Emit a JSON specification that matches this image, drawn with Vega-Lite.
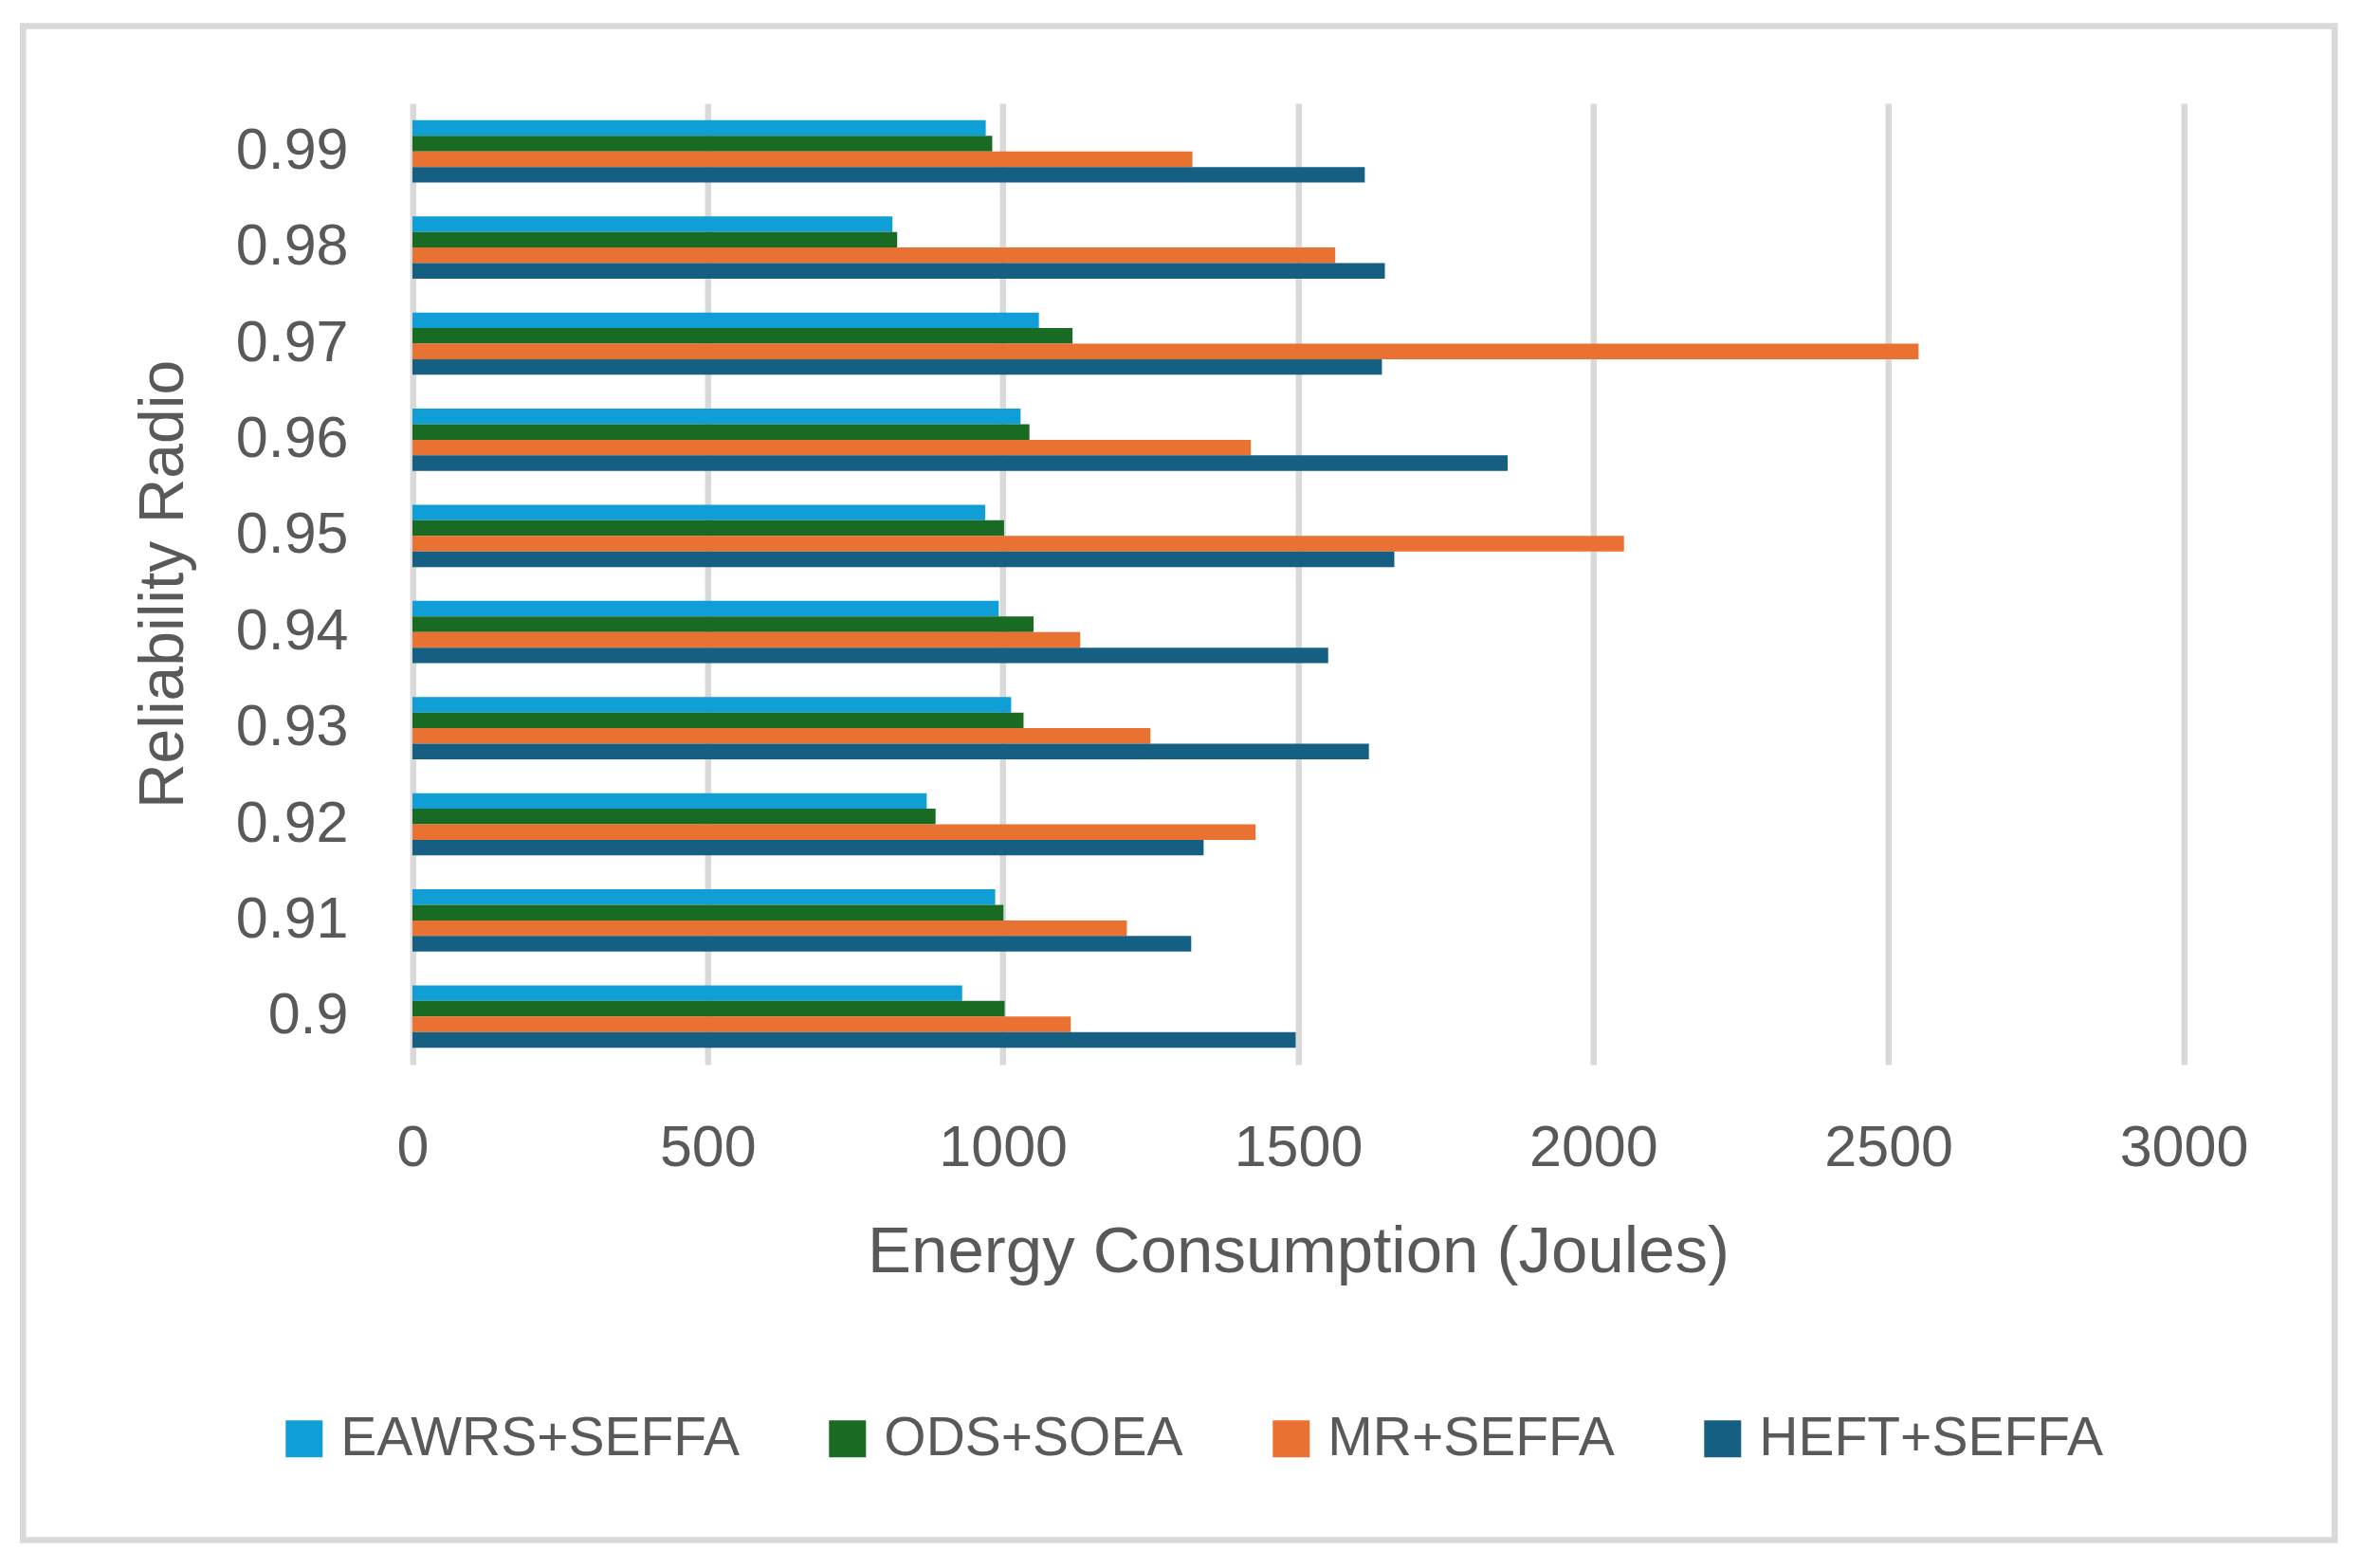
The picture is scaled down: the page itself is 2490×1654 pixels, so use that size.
{
  "$schema": "https://vega.github.io/schema/vega-lite/v6.json",
  "autosize": {"type": "none"},
  "width": 2438,
  "height": 1597,
  "padding": {"left": 24.3, "top": 27.5, "right": 27.7, "bottom": 29.5},
  "background": "white",
  "config": {
    "view": {"stroke": "#d9d9d9", "strokeWidth": 6.5},
    "font": "Liberation Sans"
  },
  "data": {
    "values": [
      {"ratio": "0.99", "method": "EAWRS+SEFFA", "value": 971},
      {"ratio": "0.99", "method": "ODS+SOEA", "value": 982},
      {"ratio": "0.99", "method": "MR+SEFFA", "value": 1321},
      {"ratio": "0.99", "method": "HEFT+SEFFA", "value": 1613},
      {"ratio": "0.98", "method": "EAWRS+SEFFA", "value": 813},
      {"ratio": "0.98", "method": "ODS+SOEA", "value": 821},
      {"ratio": "0.98", "method": "MR+SEFFA", "value": 1563},
      {"ratio": "0.98", "method": "HEFT+SEFFA", "value": 1647},
      {"ratio": "0.97", "method": "EAWRS+SEFFA", "value": 1061},
      {"ratio": "0.97", "method": "ODS+SOEA", "value": 1118},
      {"ratio": "0.97", "method": "MR+SEFFA", "value": 2551},
      {"ratio": "0.97", "method": "HEFT+SEFFA", "value": 1642},
      {"ratio": "0.96", "method": "EAWRS+SEFFA", "value": 1030},
      {"ratio": "0.96", "method": "ODS+SOEA", "value": 1045},
      {"ratio": "0.96", "method": "MR+SEFFA", "value": 1420},
      {"ratio": "0.96", "method": "HEFT+SEFFA", "value": 1855},
      {"ratio": "0.95", "method": "EAWRS+SEFFA", "value": 970},
      {"ratio": "0.95", "method": "ODS+SOEA", "value": 1002},
      {"ratio": "0.95", "method": "MR+SEFFA", "value": 2052},
      {"ratio": "0.95", "method": "HEFT+SEFFA", "value": 1663},
      {"ratio": "0.94", "method": "EAWRS+SEFFA", "value": 993},
      {"ratio": "0.94", "method": "ODS+SOEA", "value": 1052},
      {"ratio": "0.94", "method": "MR+SEFFA", "value": 1131},
      {"ratio": "0.94", "method": "HEFT+SEFFA", "value": 1551},
      {"ratio": "0.93", "method": "EAWRS+SEFFA", "value": 1014},
      {"ratio": "0.93", "method": "ODS+SOEA", "value": 1035},
      {"ratio": "0.93", "method": "MR+SEFFA", "value": 1250},
      {"ratio": "0.93", "method": "HEFT+SEFFA", "value": 1620},
      {"ratio": "0.92", "method": "EAWRS+SEFFA", "value": 871},
      {"ratio": "0.92", "method": "ODS+SOEA", "value": 886},
      {"ratio": "0.92", "method": "MR+SEFFA", "value": 1428},
      {"ratio": "0.92", "method": "HEFT+SEFFA", "value": 1340},
      {"ratio": "0.91", "method": "EAWRS+SEFFA", "value": 987},
      {"ratio": "0.91", "method": "ODS+SOEA", "value": 1001},
      {"ratio": "0.91", "method": "MR+SEFFA", "value": 1210},
      {"ratio": "0.91", "method": "HEFT+SEFFA", "value": 1319},
      {"ratio": "0.9", "method": "EAWRS+SEFFA", "value": 931},
      {"ratio": "0.9", "method": "ODS+SOEA", "value": 1003},
      {"ratio": "0.9", "method": "MR+SEFFA", "value": 1115},
      {"ratio": "0.9", "method": "HEFT+SEFFA", "value": 1496}
    ]
  },
  "mark": {"type": "bar"},
  "encoding": {
    "x": {
      "field": "value",
      "type": "quantitative",
      "scale": {"domain": [0, 3000], "range": [410.7, 2278.7], "nice": false, "zero": true},
      "axis": {
        "orient": "top",
        "title": "Energy Consumption (Joules)",
        "values": [0, 500, 1000, 1500, 2000, 2500, 3000],
        "format": "d",
        "grid": true,
        "gridColor": "#d9d9d9",
        "gridWidth": 6.5,
        "domain": false,
        "ticks": false,
        "labelPadding": -1201.5,
        "labelBaseline": "alphabetic",
        "labelFlush": false,
        "labelFont": "Liberation Sans",
        "labelFontSize": 61,
        "labelColor": "#595959",
        "titleFont": "Liberation Sans",
        "titleFontSize": 69,
        "titleFontWeight": "normal",
        "titleColor": "#595959",
        "titleBaseline": "alphabetic",
        "titleY": 1313.5
      }
    },
    "y": {
      "field": "ratio",
      "type": "nominal",
      "scale": {
        "domain": ["0.99", "0.98", "0.97", "0.96", "0.95", "0.94", "0.93", "0.92", "0.91", "0.9"],
        "range": [81.5, 1095.5],
        "paddingInner": 0.352,
        "paddingOuter": 0.176
      },
      "axis": {
        "title": "Reliability Radio",
        "grid": false,
        "domain": false,
        "ticks": false,
        "offset": -410.7,
        "labelPadding": 68,
        "labelFont": "Liberation Sans",
        "labelFontSize": 61,
        "labelColor": "#595959",
        "titleFont": "Liberation Sans",
        "titleFontSize": 66,
        "titleFontWeight": "normal",
        "titleColor": "#595959",
        "titlePadding": 42
      }
    },
    "yOffset": {
      "field": "method",
      "type": "nominal",
      "scale": {"domain": ["EAWRS+SEFFA", "ODS+SOEA", "MR+SEFFA", "HEFT+SEFFA"], "paddingInner": 0, "paddingOuter": 0}
    },
    "color": {
      "field": "method",
      "type": "nominal",
      "scale": {
        "domain": ["EAWRS+SEFFA", "ODS+SOEA", "MR+SEFFA", "HEFT+SEFFA"],
        "range": ["#0F9ED5", "#196B24", "#E97132", "#156082"]
      },
      "legend": {
        "title": null,
        "orient": "none",
        "legendX": 268,
        "legendY": 1461.5,
        "direction": "horizontal",
        "columns": 4,
        "padding": 0,
        "symbolType": "square",
        "symbolSize": 1521,
        "symbolStrokeWidth": 0,
        "symbolOpacity": 1,
        "labelOffset": 10,
        "columnPadding": 85,
        "labelFont": "Liberation Sans",
        "labelFontSize": 57,
        "labelColor": "#595959",
        "labelLimit": 1000
      }
    }
  }
}
